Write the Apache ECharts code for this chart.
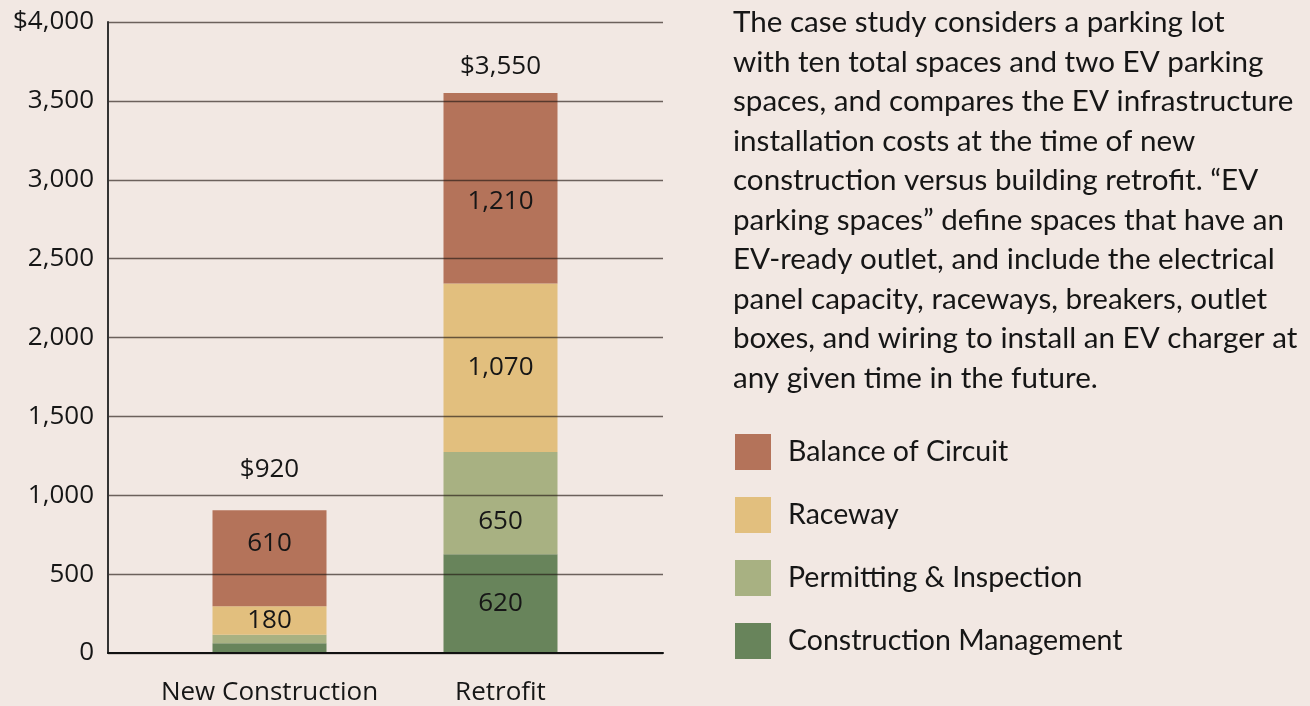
<!DOCTYPE html>
<html>
<head>
<meta charset="utf-8">
<script src="https://cdn.jsdelivr.net/npm/echarts@6/dist/echarts.min.js"></script>
<style>
html,body{margin:0;padding:0;background:#f2e8e3;}
#c{width:1310px;height:706px;}
</style>
</head>
<body>
<div id="c"></div>
<script>
var categories = ['New Construction', 'Retrofit'];
var constructionManagement = [55, 620];
var permitting = [55, 650];
var raceway = [180, 1070];
var balanceOfCircuit = [610, 1210];
var totals = [920, 3550];
var yTicks = [0, 500, 1000, 1500, 2000, 2500, 3000, 3500, 4000];
var bodyLines = [
  'The case study considers a parking lot',
  'with ten total spaces and two EV parking',
  'spaces, and compares the EV infrastructure',
  'installation costs at the time of new',
  'construction versus building retrofit. \u201cEV',
  'parking spaces\u201d define spaces that have an',
  'EV-ready outlet, and include the electrical',
  'panel capacity, raceways, breakers, outlet',
  'boxes, and wiring to install an EV charger at',
  'any given time in the future.'
];

var CHART_FONT = '"Open Sans", sans-serif';
var TEXT_FONT = 'Lato, "Open Sans", sans-serif';
var TXT = '#161616';
function fmt(v){ return Number(v).toLocaleString('en-US'); }

/* label vertical nudges (style only), per series per category */
var labelNudge = {
  cm: [0, 0], pi: [0, 18], rw: [0, 0], bc: [-15, 13]
};

var chart = echarts.init(document.getElementById('c'));
function seg(name, data, color, nudge){
  return {
    name: name, type: 'bar', stack: 'cost', xAxisIndex: 1, yAxisIndex: 1,
    data: data.map(function(v, i){ return {value: v, label: {offset: [0, nudge[i]]}}; }),
    barWidth: 114, itemStyle: {color: color},
    label: {
      show: true, position: 'inside', color: TXT, fontSize: 26, fontFamily: CHART_FONT,
      formatter: function(p){ return p.value >= 100 ? fmt(p.value) : ''; }
    },
    z: 2
  };
}
var totalDistances = [28, 13];
var option = {
  backgroundColor: '#f2e8e3',
  animation: false,
  textStyle: {fontFamily: CHART_FONT},
  grid: [
    {left: 108, right: 647, top: 22, bottom: 53, containLabel: false},
    {left: 154, right: 694, top: 22, bottom: 53, containLabel: false}
  ],
  xAxis: [
    {gridIndex: 0, type: 'value', min: 0, max: 1, z: 5,
     axisLine: {show: true, lineStyle: {color: '#111', width: 2}},
     axisTick: {show: false}, axisLabel: {show: false}, splitLine: {show: false}},
    {gridIndex: 1, type: 'category', data: categories,
     axisLine: {show: false}, axisTick: {show: false},
     axisLabel: {interval: 0, color: TXT, fontSize: 26, fontFamily: CHART_FONT, margin: 28}}
  ],
  yAxis: [
    {gridIndex: 0, type: 'value', min: 0, max: 4000, interval: 500, z: 5,
     axisLine: {show: true, lineStyle: {color: '#333', width: 2}},
     axisTick: {show: false},
     axisLabel: {color: TXT, fontSize: 26, fontFamily: CHART_FONT, margin: 14,
       formatter: function(v){ return v === yTicks[yTicks.length-1] ? '$' + fmt(v) : fmt(v); }},
     splitLine: {show: true, lineStyle: {color: 'rgba(35,25,20,0.65)', width: 1.3}}},
    {gridIndex: 1, type: 'value', min: 0, max: 4000, show: false,
     splitLine: {show: false}}
  ],
  legend: {
    orient: 'vertical', left: 735, top: 434, padding: 0,
    itemWidth: 36, itemHeight: 36, itemGap: 27,
    icon: 'rect',
    data: ['Balance of Circuit', 'Raceway', 'Permitting & Inspection', 'Construction Management'],
    textStyle: {color: TXT, fontSize: 28.5, fontFamily: TEXT_FONT, padding: [0, 0, 0, 12]},
    selectedMode: false
  },
  graphic: [{
    type: 'text', left: 733, top: 3,
    style: {text: bodyLines.join('\n'), font: '29.6px ' + TEXT_FONT, lineHeight: 39.5, fill: TXT}
  }],
  series: [
    seg('Construction Management', constructionManagement, '#68845b', labelNudge.cm),
    seg('Permitting & Inspection', permitting, '#a8b182', labelNudge.pi),
    seg('Raceway', raceway, '#e2bf7e', labelNudge.rw),
    seg('Balance of Circuit', balanceOfCircuit, '#b4735a', labelNudge.bc),
    {
      name: 'Total', type: 'bar', stack: 'cost', xAxisIndex: 1, yAxisIndex: 1, barWidth: 114,
      data: totals.map(function(t, i){
        return {value: 0, label: {distance: totalDistances[i]}};
      }),
      itemStyle: {color: 'transparent'},
      label: {show: true, position: 'top', color: TXT, fontSize: 26, fontFamily: CHART_FONT,
        formatter: function(p){ return '$' + fmt(totals[p.dataIndex]); }}
    }
  ]
};
chart.setOption(option);
</script>
</body>
</html>
